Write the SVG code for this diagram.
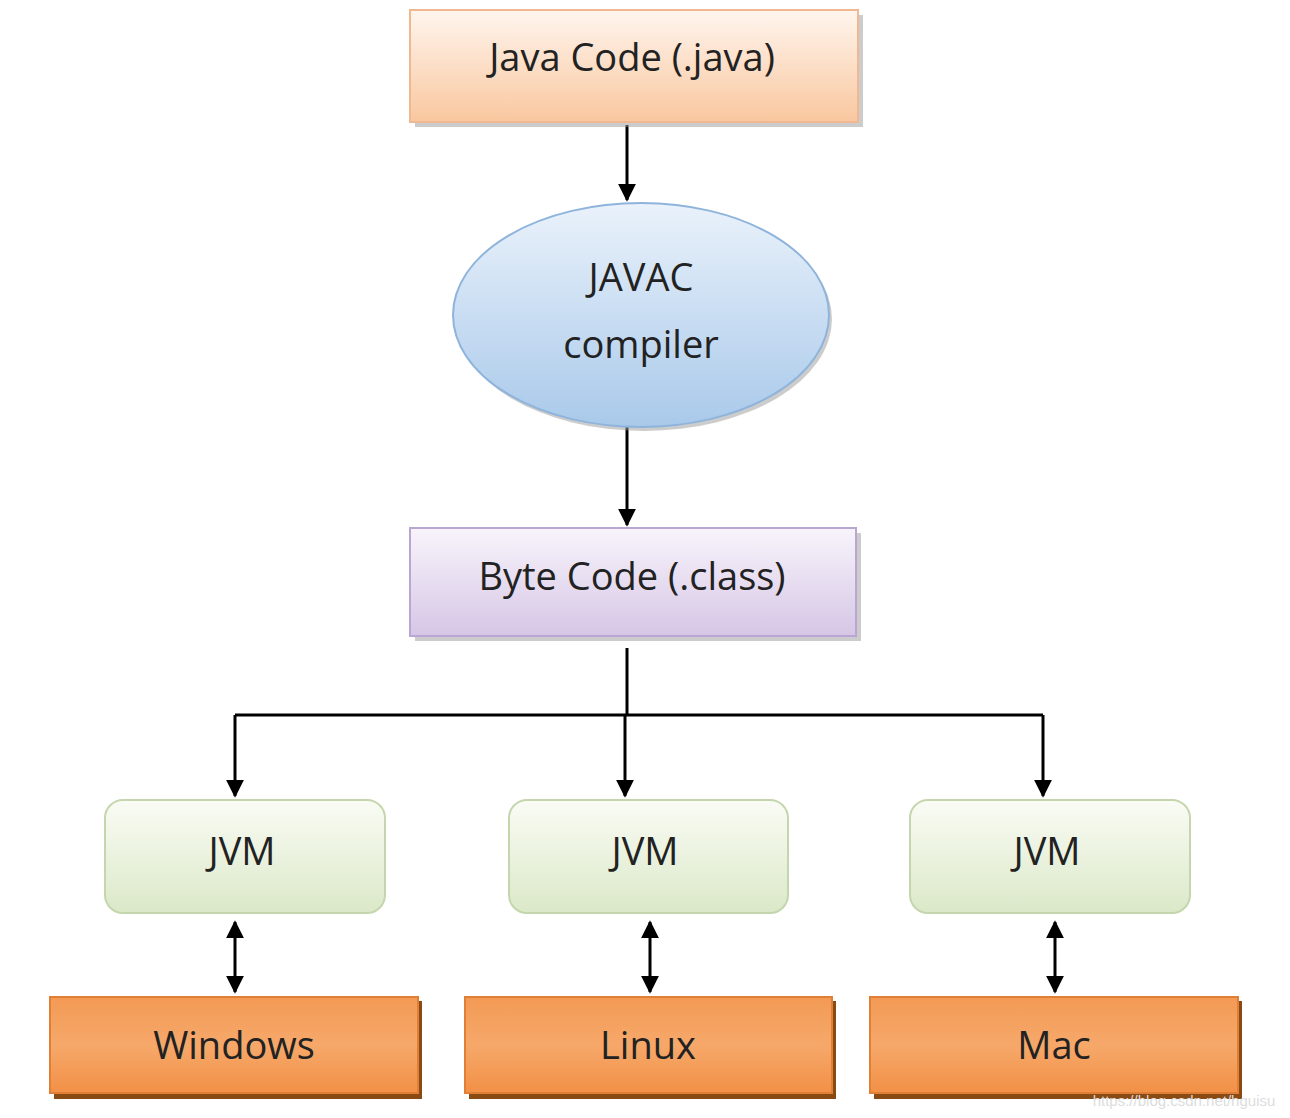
<svg xmlns="http://www.w3.org/2000/svg" width="1290" height="1118" viewBox="0 0 1290 1118">
<defs>
<linearGradient id="gPeach" x1="0" y1="0" x2="0" y2="1"><stop offset="0" stop-color="#fff5ee"/><stop offset="1" stop-color="#f9c79f"/></linearGradient>
<linearGradient id="gBlue" x1="0" y1="0" x2="0" y2="1"><stop offset="0" stop-color="#eaf2fb"/><stop offset="1" stop-color="#a9c9ea"/></linearGradient>
<linearGradient id="gPurple" x1="0" y1="0" x2="0" y2="1"><stop offset="0" stop-color="#f8f4fb"/><stop offset="1" stop-color="#d6c6e6"/></linearGradient>
<linearGradient id="gGreen" x1="0" y1="0" x2="0" y2="1"><stop offset="0" stop-color="#fafcf5"/><stop offset="1" stop-color="#dbe8c8"/></linearGradient>
<linearGradient id="gOrange" x1="0" y1="0" x2="0" y2="1"><stop offset="0" stop-color="#f39a55"/><stop offset="0.5" stop-color="#f6a86a"/><stop offset="1" stop-color="#f29046"/></linearGradient>
<marker id="ah" viewBox="0 0 10 10" refX="9" refY="5" markerWidth="6" markerHeight="6" orient="auto-start-reverse"><path d="M0,0 L10,5 L0,10 z" fill="#000"/></marker>
</defs>
<style>
text{font-family:"Open Sans","DejaVu Sans",sans-serif;fill:#222;text-anchor:middle}
.t{font-size:38px}
.c{stroke:#000;stroke-width:3;fill:none}
.sh{fill:#999;opacity:.5}
</style>
<rect width="1290" height="1118" fill="#fff"/>
<g id="connectors">
<line class="c" x1="627" y1="125" x2="627" y2="200" marker-end="url(#ah)"/>
<line class="c" x1="627" y1="422" x2="627" y2="525" marker-end="url(#ah)"/>
<line class="c" x1="627" y1="648" x2="627" y2="715"/>
<line class="c" x1="235" y1="715" x2="1043" y2="715"/>
<line class="c" x1="235" y1="715" x2="235" y2="796" marker-end="url(#ah)"/>
<line class="c" x1="625" y1="715" x2="625" y2="796" marker-end="url(#ah)"/>
<line class="c" x1="1043" y1="715" x2="1043" y2="796" marker-end="url(#ah)"/>
<line class="c" x1="235" y1="922" x2="235" y2="992" marker-start="url(#ah)" marker-end="url(#ah)"/>
<line class="c" x1="650" y1="922" x2="650" y2="992" marker-start="url(#ah)" marker-end="url(#ah)"/>
<line class="c" x1="1055" y1="922" x2="1055" y2="992" marker-start="url(#ah)" marker-end="url(#ah)"/>
</g>
<g id="java">
<rect class="sh" x="415" y="15" width="448" height="112"/>
<rect x="410" y="10" width="448" height="112" fill="url(#gPeach)" stroke="#f0b890" stroke-width="2"/>
<text class="t" x="632" y="71">Java Code (.java)</text>
</g>
<g id="javac">
<ellipse cx="644" cy="319" rx="188" ry="112" class="sh"/>
<ellipse cx="641" cy="315" rx="188" ry="112" fill="url(#gBlue)" stroke="#8fb4dc" stroke-width="2"/>
<text class="t" x="641" y="291">JAVAC</text>
<text class="t" x="641" y="358">compiler</text>
</g>
<g id="bytecode">
<rect class="sh" x="415" y="533" width="446" height="108"/>
<rect x="410" y="528" width="446" height="108" fill="url(#gPurple)" stroke="#b9a6d3" stroke-width="2"/>
<text class="t" x="632" y="590">Byte Code (.class)</text>
</g>
<g id="jvm1"><rect x="105" y="800" width="280" height="113" rx="18" fill="url(#gGreen)" stroke="#c5d6ae" stroke-width="2"/><text class="t" x="242" y="865">JVM</text></g>
<g id="jvm2"><rect x="509" y="800" width="279" height="113" rx="18" fill="url(#gGreen)" stroke="#c5d6ae" stroke-width="2"/><text class="t" x="645" y="865">JVM</text></g>
<g id="jvm3"><rect x="910" y="800" width="280" height="113" rx="18" fill="url(#gGreen)" stroke="#c5d6ae" stroke-width="2"/><text class="t" x="1047" y="865">JVM</text></g>
<g id="windows"><rect x="54" y="1001" width="368" height="98" fill="#8a4a14"/><rect x="50" y="997" width="368" height="96" fill="url(#gOrange)" stroke="#e07f35" stroke-width="2"/><text class="t" x="234" y="1059">Windows</text></g>
<g id="linux"><rect x="469" y="1001" width="367" height="98" fill="#8a4a14"/><rect x="465" y="997" width="367" height="96" fill="url(#gOrange)" stroke="#e07f35" stroke-width="2"/><text class="t" x="648" y="1059">Linux</text></g>
<g id="mac"><rect x="874" y="1001" width="368" height="98" fill="#8a4a14"/><rect x="870" y="997" width="368" height="96" fill="url(#gOrange)" stroke="#e07f35" stroke-width="2"/><text class="t" x="1054" y="1059">Mac</text></g>
<text x="1184" y="1106" style="font-family:'Liberation Sans',sans-serif;font-size:15px;fill:#dddddd">https://blog.csdn.net/hguisu</text>
</svg>
